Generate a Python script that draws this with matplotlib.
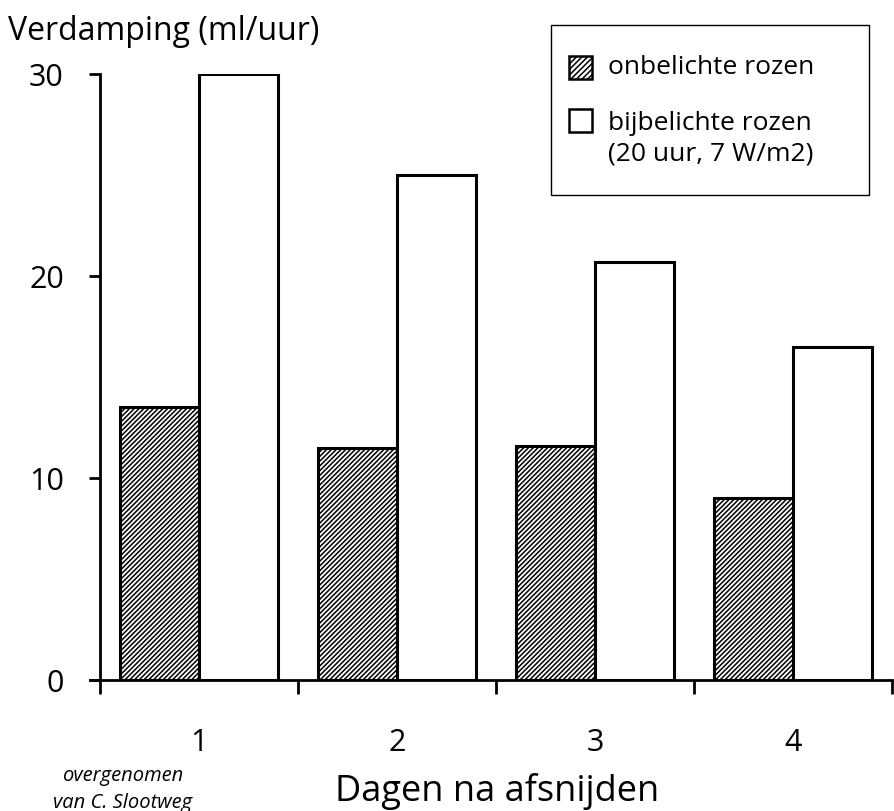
import matplotlib
matplotlib.use("Agg")
import matplotlib.pyplot as plt
import numpy as np
from matplotlib.patches import Rectangle

plt.rcParams['font.family'] = ['Open Sans', 'DejaVu Sans']
plt.rcParams['hatch.linewidth'] = 1.1

days = ["1", "2", "3", "4"]
onbelicht = [13.5, 11.5, 11.6, 9.0]
bijbelicht = [30.0, 25.0, 20.7, 16.5]
y_ticks = [0, 10, 20, 30]
series_labels = ["onbelichte rozen", "bijbelichte rozen", "(20 uur, 7 W/m2)"]

W, H = 894, 812
fig = plt.figure(figsize=(W / 100, H / 100), dpi=100)
ax = fig.add_axes([100 / W, 1 - 681 / H, 792 / W, 606 / H])

HATCH = "///////"
x = np.arange(1, len(days) + 1)
w = 0.4
ax.bar(x - w / 2, onbelicht, width=w, facecolor="white", edgecolor="black",
       hatch=HATCH, linewidth=2.2)
ax.bar(x + w / 2, bijbelicht, width=w, facecolor="white", edgecolor="black",
       linewidth=2.2)

ax.set_xlim(0.5, 4.5)
ax.set_ylim(0, 30)
ax.spines['top'].set_visible(False)
ax.spines['right'].set_visible(False)
ax.spines['left'].set_linewidth(2)
ax.spines['bottom'].set_linewidth(2)
ax.spines['bottom'].set_bounds(0.45, 4.5)

ax.set_yticks(y_ticks)
ax.set_yticklabels([str(t) for t in y_ticks], fontsize=22)
ax.tick_params(axis='y', length=8, width=2, pad=18)

ax.set_xticks(x)
ax.set_xticklabels(days, fontsize=22)
ax.set_xticks(np.arange(0.5, 4.6, 1.0), minor=True)
ax.tick_params(axis='x', which='major', length=0, pad=34)
ax.tick_params(axis='x', which='minor', length=10, width=2)

fig.text(8 / W, 1 - 32 / H, "Verdamping (ml/uur)", fontsize=23,
         ha='left', va='center')
fig.text(497 / W, 1 - 792 / H, "Dagen na afsnijden", fontsize=26,
         ha='center', va='center')
fig.text(123 / W, 1 - 776 / H, "overgenomen", fontsize=14.5,
         style='italic', ha='center', va='center')
fig.text(123 / W, 1 - 803 / H, "van C. Slootweg", fontsize=14.5,
         style='italic', ha='center', va='center')

# legend box drawn in figure pixels
def fig_rect(x0, y0, x1, y1, **kw):
    return Rectangle((x0 / W, 1 - y1 / H), (x1 - x0) / W, (y1 - y0) / H,
                     transform=fig.transFigure, **kw)

fig.add_artist(fig_rect(551, 26, 869, 196, facecolor="white",
                        edgecolor="black", linewidth=1.0))
fig.add_artist(fig_rect(569, 57, 592, 80, facecolor="white",
                        edgecolor="black", linewidth=1.8, hatch="//////"))
fig.add_artist(fig_rect(569, 110, 592, 133, facecolor="white",
                        edgecolor="black", linewidth=1.8))
fig.text(608 / W, 1 - 68 / H, series_labels[0], fontsize=19,
         ha='left', va='center')
fig.text(608 / W, 1 - 124 / H, series_labels[1], fontsize=19,
         ha='left', va='center')
fig.text(608 / W, 1 - 154 / H, series_labels[2], fontsize=19,
         ha='left', va='center')

fig.savefig("out.png", dpi=100, facecolor="white")
